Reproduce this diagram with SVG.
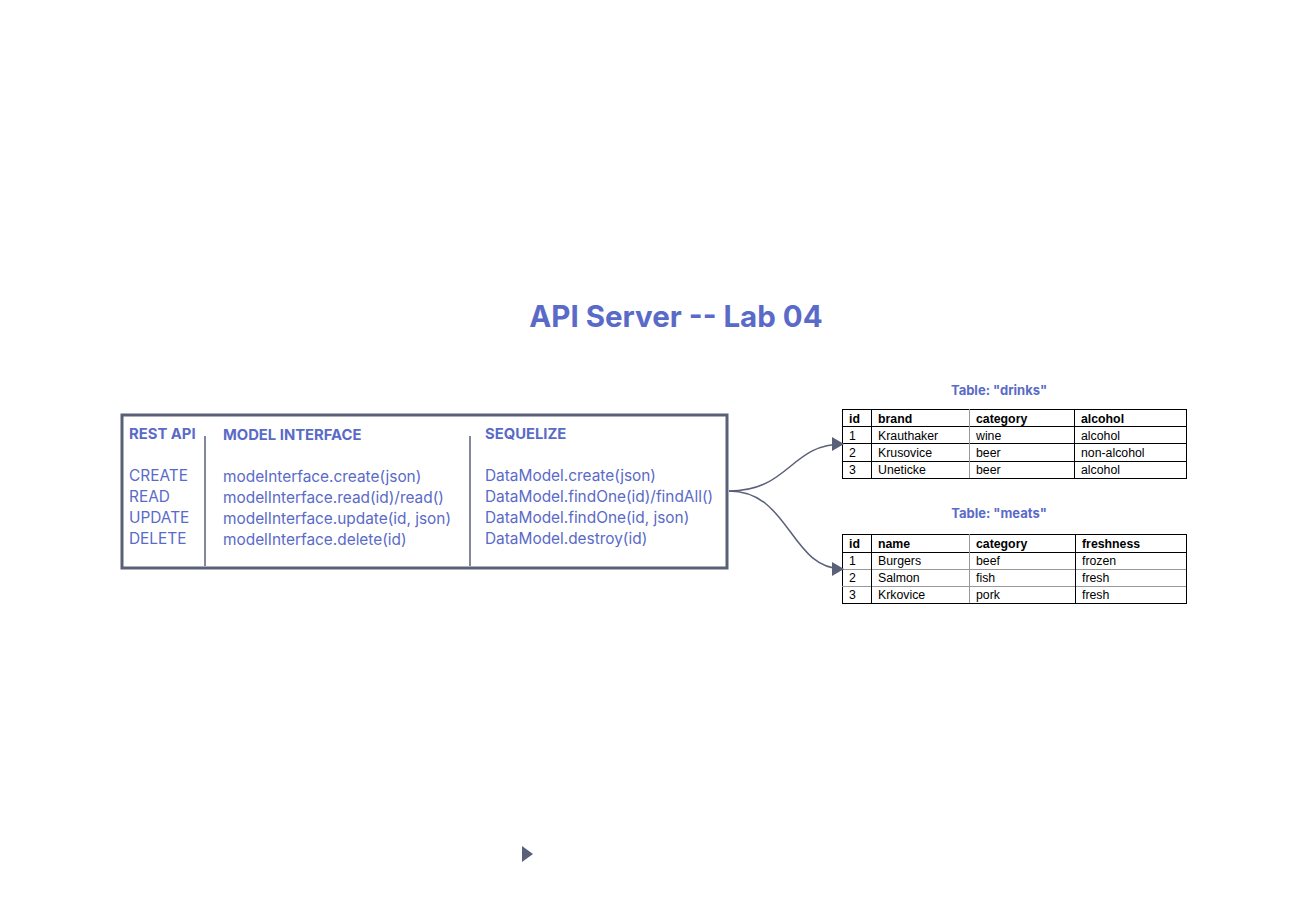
<svg xmlns="http://www.w3.org/2000/svg" width="1308" height="900" viewBox="0 0 1308 900">
<style>
.t{font-family:Inter,"Liberation Sans",sans-serif;fill:#5a6ac8}
.title{font-size:29.5px;font-weight:700}
.hd{font-size:14.8px;font-weight:700}
.bd{font-size:15.4px}
.tt{font-size:13px;font-weight:700}
.tb{font-family:"Liberation Sans",Arial,sans-serif;font-size:12.3px;fill:#000}
.tbh{font-weight:700}
.cell{fill:none;stroke:#000;stroke-width:1}
.grid{stroke:#999;stroke-width:1}
.conn{fill:none;stroke:#596078;stroke-width:1.5}
</style>
<defs>
<marker id="arr" markerWidth="12" markerHeight="14" refX="11" refY="7" orient="auto" markerUnits="userSpaceOnUse" viewBox="0 0 12 14">
<path d="M0,0 L12,7 L0,14 Z" fill="#596078"/>
</marker>
</defs>
<rect width="1308" height="900" fill="#fff"/>
<text class="t title" x="676" y="327" text-anchor="middle">API Server -- Lab 04</text>

<g id="server">
<rect x="122" y="415" width="605" height="153" fill="#fff" stroke="#596078" stroke-width="3"/>
<line x1="205" y1="436" x2="205" y2="566" stroke="#596078" stroke-width="1.5"/>
<line x1="470" y1="436" x2="470" y2="566" stroke="#596078" stroke-width="1.5"/>
<text class="t hd" x="129" y="439">REST API</text>
<text class="t hd" x="223" y="440">MODEL INTERFACE</text>
<text class="t hd" x="485" y="439">SEQUELIZE</text>
<text class="t bd" x="129" y="481">CREATE</text>
<text class="t bd" x="129" y="502">READ</text>
<text class="t bd" x="129" y="523">UPDATE</text>
<text class="t bd" x="129" y="544">DELETE</text>
<text class="t bd" x="223" y="482">modeInterface.create(json)</text>
<text class="t bd" x="223" y="503">modelInterface.read(id)/read()</text>
<text class="t bd" x="223" y="524">modelInterface.update(id, json)</text>
<text class="t bd" x="223" y="545">modelInterface.delete(id)</text>
<text class="t bd" x="485" y="481">DataModel.create(json)</text>
<text class="t bd" x="485" y="502">DataModel.findOne(id)/findAll()</text>
<text class="t bd" x="485" y="523">DataModel.findOne(id, json)</text>
<text class="t bd" x="485" y="544">DataModel.destroy(id)</text>
</g>

<g id="drinks">
<text class="t tt" x="999" y="395" text-anchor="middle">Table: "drinks"</text>
<rect class="cell" x="842.5" y="409.5" width="344" height="69"/>
<line class="cell" x1="842" y1="426.5" x2="1186" y2="426.5"/>
<line class="cell" x1="842" y1="443.5" x2="1186" y2="443.5"/>
<line class="cell" x1="842" y1="461.5" x2="1186" y2="461.5"/>
<line class="cell" x1="871.5" y1="409" x2="871.5" y2="478"/>
<line class="grid" x1="969.5" y1="409" x2="969.5" y2="478"/>
<line class="cell" x1="1074.5" y1="409" x2="1074.5" y2="478"/>
<text class="tb tbh" x="849" y="423">id</text>
<text class="tb tbh" x="878" y="423">brand</text>
<text class="tb tbh" x="976" y="423">category</text>
<text class="tb tbh" x="1081" y="423">alcohol</text>
<text class="tb" x="849" y="440">1</text>
<text class="tb" x="878" y="440">Krauthaker</text>
<text class="tb" x="976" y="440">wine</text>
<text class="tb" x="1081" y="440">alcohol</text>
<text class="tb" x="849" y="457">2</text>
<text class="tb" x="878" y="457">Krusovice</text>
<text class="tb" x="976" y="457">beer</text>
<text class="tb" x="1081" y="457">non-alcohol</text>
<text class="tb" x="849" y="474">3</text>
<text class="tb" x="878" y="474">Uneticke</text>
<text class="tb" x="976" y="474">beer</text>
<text class="tb" x="1081" y="474">alcohol</text>
</g>

<g id="meats">
<text class="t tt" x="999" y="518" text-anchor="middle">Table: "meats"</text>
<rect class="cell" x="842.5" y="534.5" width="344" height="69"/>
<line class="cell" x1="842" y1="552.5" x2="1186" y2="552.5"/>
<line class="grid" x1="842" y1="569.5" x2="1186" y2="569.5"/>
<line class="grid" x1="842" y1="586.5" x2="1186" y2="586.5"/>
<line class="cell" x1="871.5" y1="534" x2="871.5" y2="603"/>
<line class="grid" x1="969.5" y1="534" x2="969.5" y2="603"/>
<line class="cell" x1="1075.5" y1="534" x2="1075.5" y2="603"/>
<text class="tb tbh" x="849" y="548">id</text>
<text class="tb tbh" x="878" y="548">name</text>
<text class="tb tbh" x="976" y="548">category</text>
<text class="tb tbh" x="1082" y="548">freshness</text>
<text class="tb" x="849" y="565">1</text>
<text class="tb" x="878" y="565">Burgers</text>
<text class="tb" x="976" y="565">beef</text>
<text class="tb" x="1082" y="565">frozen</text>
<text class="tb" x="849" y="582">2</text>
<text class="tb" x="878" y="582">Salmon</text>
<text class="tb" x="976" y="582">fish</text>
<text class="tb" x="1082" y="582">fresh</text>
<text class="tb" x="849" y="599">3</text>
<text class="tb" x="878" y="599">Krkovice</text>
<text class="tb" x="976" y="599">pork</text>
<text class="tb" x="1082" y="599">fresh</text>
</g>

<g id="connectors">
<path class="conn" d="M729,491 C790,491 790,444 843,444" marker-end="url(#arr)"/>
<path class="conn" d="M729,491 C790,491 790,569 843,569" marker-end="url(#arr)"/>
</g>

<polygon points="522,846 533,854 522,862" fill="#596078"/>
</svg>
